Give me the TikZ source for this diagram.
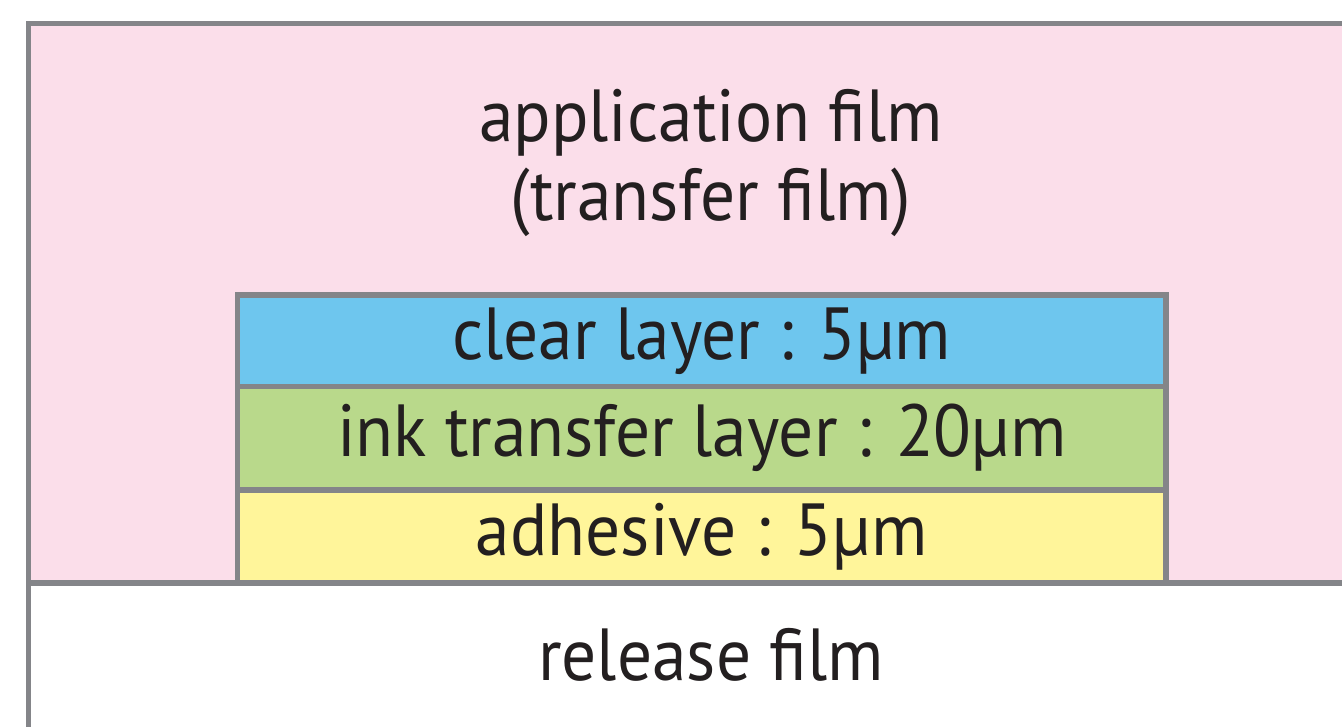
\documentclass[tikz,border=0pt]{standalone}
\usepackage{fontspec}
\setmainfont{PT Sans}[FakeStretch=0.94]
\usetikzlibrary{positioning}
\definecolor{filmpink}{HTML}{FBDEEA}
\definecolor{filmgray}{HTML}{848589}
\definecolor{filmtext}{HTML}{231F20}
\definecolor{clearblue}{HTML}{6EC6EE}
\definecolor{inkgreen}{HTML}{B9D98B}
\definecolor{adhyellow}{HTML}{FFF59A}

\begin{document}
\begin{tikzpicture}[
    film/.style={draw=filmgray, line width=1.7pt, inner sep=0pt, outer sep=0pt},
    layer/.style={film, minimum width=9.285cm, font=\fontsize{21}{22}\selectfont, text=filmtext},
    filmlabel/.style={font=\fontsize{21}{22.2}\selectfont, text=filmtext, align=center},
    ]
    \useasboundingbox (0,0) rectangle (13.42,7.26);
    \clip (0,0) rectangle (13.42,7.26);

    % Application film (runs off the right edge)
    \node[film, fill=filmpink, anchor=south west, minimum width=13.5cm, minimum height=5.59cm] (app) at (0.285,1.435) {};

    % Release film (runs off the bottom edge)
    \node[film, fill=white, anchor=north west, minimum width=13.5cm, minimum height=1.8cm] (rel) at (0.285,1.435) {};

    % Transfer stack
    \node[layer, fill=clearblue, minimum height=0.915cm, anchor=north west] (clear) at (2.375,4.31) {clear layer : 5µm};
    \node[layer, fill=inkgreen, minimum height=1.035cm, below=0pt of clear] (ink) {ink transfer layer : 20µm};
    \node[layer, fill=adhyellow, minimum height=0.925cm, below=0pt of ink] (adh) {adhesive : 5µm};

    % Labels
    \node[filmlabel, anchor=base] (apptext) at (7.11,5.06) {application film\\(transfer film)};
    \node[filmlabel, anchor=base] (reltext) at (7.11,0.46) {release film};
\end{tikzpicture}
\end{document}
